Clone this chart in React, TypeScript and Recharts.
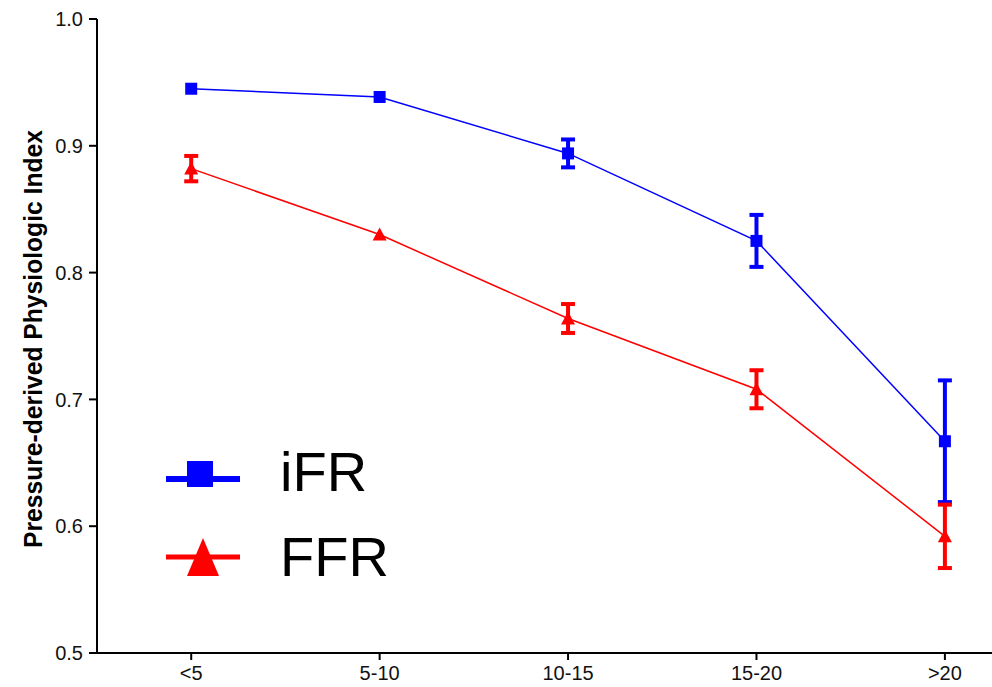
import { LineChart, Line, XAxis, YAxis, ErrorBar, Legend } from "recharts";

// categories (plotted at x = 1..5)
const groups = ["<5", "5-10", "10-15", "15-20", ">20"];
const ifrMean = [0.945, 0.9385, 0.894, 0.825, 0.667];
const ifrErr = [null, null, 0.011, 0.0205, 0.048];
const ffrMean = [0.882, 0.83, 0.7638, 0.708, 0.592];
const ffrErr = [0.01, null, 0.0114, 0.015, 0.025];
const yTicks = [0.5, 0.6, 0.7, 0.8, 0.9, 1.0];

const BLUE = "#0000ff";
const RED = "#ff0000";
const INK = "#111";
const FONT = "Liberation Sans, Arial, sans-serif";

const data = groups.map((g, i) => ({
  x: i + 1,
  group: g,
  ifr: ifrMean[i],
  ifrErr: ifrErr[i],
  ffr: ffrMean[i],
  ffrErr: ffrErr[i],
}));

const SquareDot = (p: any) => {
  if (p.cx == null || p.cy == null) return null;
  return <rect key={p.key} x={p.cx - 6} y={p.cy - 6} width={12} height={12} fill={BLUE} />;
};

const TriDot = (p: any) => {
  if (p.cx == null || p.cy == null) return null;
  const { cx, cy } = p;
  return <polygon key={p.key} points={`${cx},${cy - 7} ${cx - 7},${cy + 6} ${cx + 7},${cy + 6}`} fill={RED} />;
};

function YLabel() {
  return (
    <text
      x={42}
      y={339}
      transform="rotate(-90 42 339)"
      textAnchor="middle"
      fontFamily={FONT}
      fontWeight={700}
      fontSize={26}
      fill="#000"
      textLength={418}
      lengthAdjust="spacingAndGlyphs"
    >
      Pressure-derived Physiologic Index
    </text>
  );
}

function LegendBox() {
  return (
    <svg width={260} height={150}>
      <line x1={6} y1={39} x2={80} y2={39} stroke={BLUE} strokeWidth={6} />
      <rect x={27} y={21} width={26} height={26} fill={BLUE} />
      <text x={120} y={51} fontFamily={FONT} fontSize={56} fill="#000">
        iFR
      </text>
      <line x1={6} y1={117} x2={80} y2={117} stroke={RED} strokeWidth={5} />
      <polygon points="43,98 27,136 59,136" fill={RED} />
      <text x={120} y={136} fontFamily={FONT} fontSize={56} fill="#000">
        FFR
      </text>
    </svg>
  );
}

export default function App() {
  return (
    <div style={{ position: "absolute", left: 0, top: 0, width: 992, height: 687, background: "#fff" }}>
      <LineChart width={992} height={687} data={data} margin={{ top: 19, right: 0, bottom: 0, left: 0 }}>
        <XAxis
          type="number"
          dataKey="x"
          domain={[0.5, 5.25]}
          ticks={[1, 2, 3, 4, 5]}
          tickFormatter={(v: number) => groups[v - 1]}
          height={34}
          allowDataOverflow
          stroke="#000"
          strokeWidth={2}
          tickSize={7}
          tickMargin={6}
          tick={{ fontSize: 20, fill: INK, fontFamily: FONT }}
        />
        <YAxis
          type="number"
          domain={[0.5, 1.0]}
          ticks={yTicks}
          tickFormatter={(v: number) => v.toFixed(1)}
          width={97}
          stroke="#000"
          strokeWidth={2}
          tickSize={8}
          tickMargin={6}
          tick={{ fontSize: 20, fill: INK, fontFamily: FONT }}
          label={{ content: () => <YLabel /> }}
        />
        <Legend
          layout="horizontal"
          verticalAlign="middle"
          align="center"
          content={() => <LegendBox />}
          wrapperStyle={{ position: "absolute", left: 160, top: 440, width: 260, height: 150 }}
        />
        <Line
          type="linear"
          dataKey="ifr"
          name="iFR"
          stroke={BLUE}
          strokeWidth={1.5}
          dot={<SquareDot />}
          activeDot={false}
          isAnimationActive={false}
        >
          <ErrorBar dataKey="ifrErr" direction="y" width={7} stroke={BLUE} strokeWidth={4} />
        </Line>
        <Line
          type="linear"
          dataKey="ffr"
          name="FFR"
          stroke={RED}
          strokeWidth={1.5}
          dot={<TriDot />}
          activeDot={false}
          isAnimationActive={false}
        >
          <ErrorBar dataKey="ffrErr" direction="y" width={7} stroke={RED} strokeWidth={4} />
        </Line>
      </LineChart>
    </div>
  );
}
